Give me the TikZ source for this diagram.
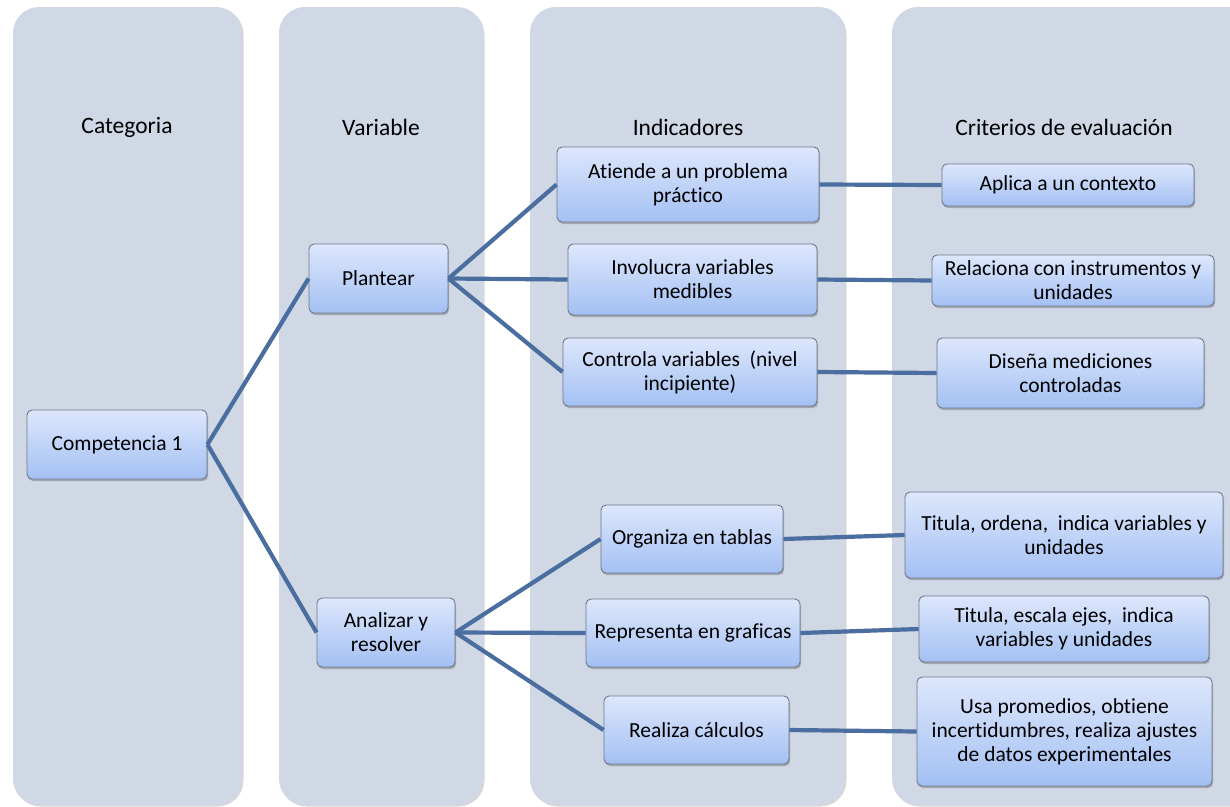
\documentclass[tikz,border=0pt]{standalone}
\usepackage{fontspec}
\setmainfont{Carlito}[Ligatures=NoCommon]
\usetikzlibrary{shadows}
\definecolor{colbg}{HTML}{D0D7E5}
\definecolor{boxtop}{HTML}{DDE7FC}
\definecolor{boxbot}{HTML}{A3C0F3}
\definecolor{boxline}{HTML}{6F7888}
\definecolor{link}{HTML}{4A6E9F}
\tikzset{
  column/.style={fill=colbg, rounded corners=26pt, drop shadow={shadow xshift=1.5pt, shadow yshift=-1.5pt, opacity=0.25, fill=black!60}},
  box/.style={draw=boxline, line width=0.9pt, rounded corners=5pt, top color=boxtop, bottom color=boxbot,
    align=center, inner sep=2pt, font=\fontsize{21.5}{24}\selectfont,
    drop shadow={shadow xshift=1pt, shadow yshift=-2pt, opacity=0.35, fill=black!70}},
  header/.style={font=\fontsize{23.5}{27}\selectfont},
  conn/.style={draw=link, line width=4.2pt}
}
\begin{document}
\begin{tikzpicture}[x=1pt,y=-1pt]
\useasboundingbox (0,0) rectangle (1230,806);
\clip (0,0) rectangle (1230,806);
\fill[white] (0,0) rectangle (1230,806);
% columns
\path[column] (13,7) rectangle (242,805);
\path[column] (279,7) rectangle (483,805);
\path[column] (530,7) rectangle (845,805);
\path[column] (892,7) rectangle (1260,805);
% headers
\node[header] (h1) at (127,127) {Categoria};
\node[header] (h2) at (381,127) {Variable};
\node[header] (h3) at (688,127) {Indicadores};
\node[header] (h4) at (1064,127) {Criterios de evaluación};
% nodes
\node[box, minimum width=180pt, minimum height=69pt] (comp) at (117,444.5) {Competencia 1};
\node[box, minimum width=139pt, minimum height=69pt] (plan) at (378.5,278.5) {Plantear};
\node[box, minimum width=138pt, minimum height=69pt] (anal) at (386,632.5) {Analizar y\\resolver};
\node[box, minimum width=262pt, minimum height=75pt] (aten) at (688,184.5) {Atiende a un problema\\práctico};
\node[box, minimum width=249pt, minimum height=71pt] (invo) at (692.5,279.5) {Involucra variables\\medibles};
\node[box, minimum width=254pt, minimum height=68pt] (cont) at (690,372) {Controla variables~ (nivel\\incipiente)};
\node[box, minimum width=182pt, minimum height=68pt] (orga) at (692,539) {Organiza en tablas};
\node[box, minimum width=214pt, minimum height=68pt] (repr) at (693,633) {Representa en graficas};
\node[box, minimum width=185pt, minimum height=68pt] (real) at (696.5,730) {Realiza cálculos};
\node[box, minimum width=252pt, minimum height=42pt] (apli) at (1068,185) {Aplica a un contexto};
\node[box, minimum width=282pt, minimum height=51pt] (rela) at (1073,280.5) {Relaciona con instrumentos y\\unidades};
\node[box, minimum width=267pt, minimum height=70pt] (dise) at (1070.5,373) {Diseña mediciones\\controladas};
\node[box, minimum width=318pt, minimum height=86pt] (tito) at (1064,535) {Titula, ordena,~ indica variables y\\unidades};
\node[box, minimum width=290pt, minimum height=66pt] (tite) at (1064,629) {Titula, escala ejes,~ indica\\variables y unidades};
\node[box, minimum width=295pt, minimum height=109pt] (usap) at (1064.5,731.5) {Usa promedios, obtiene\\incertidumbres, realiza ajustes\\de datos experimentales};
% connectors
\path[conn] (comp.east) -- (plan.west);
\path[conn] (comp.east) -- (anal.west);
\path[conn] (plan.east) -- (aten.west);
\path[conn] (plan.east) -- (invo.west);
\path[conn] (plan.east) -- (cont.west);
\path[conn] (anal.east) -- (orga.west);
\path[conn] (anal.east) -- (repr.west);
\path[conn] (anal.east) -- (real.west);
\path[conn] (aten.east) -- (apli.west);
\path[conn] (invo.east) -- (rela.west);
\path[conn] (cont.east) -- (dise.west);
\path[conn] (orga.east) -- (tito.west);
\path[conn] (repr.east) -- (tite.west);
\path[conn] (real.east) -- (usap.west);
\end{tikzpicture}
\end{document}
